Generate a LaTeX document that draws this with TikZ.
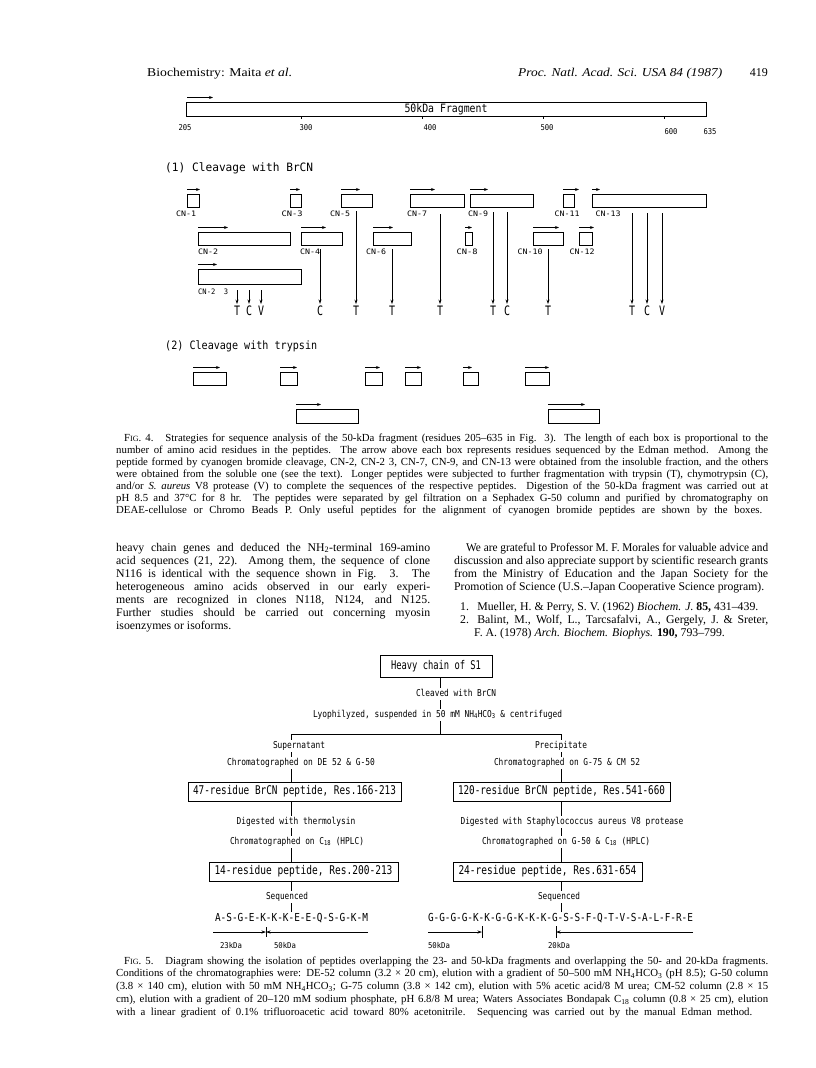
\documentclass[tikz,border=0pt]{standalone}
\usepackage{fontspec}
\setmainfont{Liberation Serif}
\newfontfamily\figf{DejaVu Sans Mono}
\usepackage{graphicx}
\usetikzlibrary{arrows.meta}
\newlength\fitlen
\newcommand\fitw[2]{\settowidth\fitlen{#2}\pgfmathsetmacro\fitsc{#1/\fitlen}\scalebox{\fitsc}[1]{#2}}
\newcommand\jl[2]{\settowidth\fitlen{#2}\ifdim\fitlen<#1pt\makebox[#1pt][s]{#2}\else\pgfmathsetmacro\fitsc{#1/\fitlen}\scalebox{\fitsc}[1]{#2}\fi}
\newcommand\fsz[1]{\fontsize{#1}{#1}\selectfont}
\newcommand\figno[1]{F{\fsz{8}IG}. #1.}
% peptide box with Edman arrow: name, x1, x2, ytop, ybottom, arrow end x
\newcommand\pep[6]{%
  \node[pbox, minimum width={#3-#2}, minimum height={#5-#4}] (#1) at ({(#2+#3)/2},{(#4+#5)/2}) {};
  \coordinate (#1a) at (#2,{#4-4.5});
  \coordinate (#1b) at (#6,{#4-4.5});
  \draw[edm] (#1a) -- (#1b);}
\begin{document}
\begin{tikzpicture}[x=1pt,y=-1pt,
  pbox/.style={draw, line width=0.9pt, inner sep=0pt, outer sep=0pt},
  edm/.style={line width=0.8pt, -{Stealth[length=4pt,width=3pt]}},
  dn/.style={line width=0.8pt, -{Stealth[length=4.5pt,width=3pt]}},
  conn/.style={line width=0.8pt},
  cnl/.style={font=\figf\fsz{7.5}, inner sep=0pt},
  numl/.style={font=\figf\fsz{8}, inner sep=0pt},
  ltr/.style={font=\figf\fsz{13}, inner sep=0pt},
  ttl/.style={font=\figf\fsz{11.5}, inner sep=0pt, anchor=west},
  lab/.style={font=\figf\fsz{9.5}, inner xsep=0pt, inner ysep=2pt, text height=6pt, text depth=1.8pt},
  kda/.style={font=\figf\fsz{8}, inner sep=0pt},
  seqf/.style={font=\figf\fsz{11}, inner xsep=0pt, inner ysep=2pt, text height=7.5pt, text depth=0pt},
  capf/.style={font=\fsz{10.8}, inner sep=0pt, anchor=base west},
  bodf/.style={font=\fsz{11.8}, inner sep=0pt, anchor=base west},
  hdf/.style={font=\fsz{12}, inner sep=0pt, anchor=base west},
]
\fill[white] (0,0) rectangle (816,1068);
\useasboundingbox (0,0) rectangle (816,1068);

% ---------------- header
\node[hdf] (hl) at (147,76) {\fitw{145}{Biochemistry: Maita \textit{et al.}}};
\node[hdf] (hr) at (518,76) {\fitw{204}{\textit{Proc. Natl. Acad. Sci. USA 84 (1987)}}};
\node[hdf, anchor=base east] (pg) at (768,76) {419};

% ---------------- Fig. 4
\node[pbox, minimum width=520, minimum height=14, font=\figf\fsz{11.5}] (frag) at (446,109) {\fitw{83}{50kDa Fragment}};
\coordinate (fraga) at (187,97.5); \coordinate (fragb) at (213,97.5);
\draw[edm] (fraga) -- (fragb);
\foreach \k/\xx in {k3/301,k4/422,k5/543,k6/664}{
  \coordinate (\k) at (\xx,116);
  \draw[conn] (\k) -- ++(0,3);}
\node[numl] (n205) at (185,128) {\fitw{13}{205}};
\node[numl] (n300) at (306,128) {\fitw{13}{300}};
\node[numl] (n400) at (430,128) {\fitw{13}{400}};
\node[numl] (n500) at (547,128) {\fitw{13}{500}};
\node[numl] (n600) at (671,132) {\fitw{13}{600}};
\node[numl] (n635) at (710,132) {\fitw{13}{635}};

\node[ttl] (cl1) at (165,168) {\fitw{148}{(1) Cleavage with BrCN}};

% row 1
\pep{cnA}{187}{199}{194}{207}{200}
\pep{cnC}{290}{301}{194}{207}{300}
\pep{cnE}{341}{372}{194}{207}{360}
\pep{cnG}{410}{464}{194}{207}{435}
\pep{cnI}{470}{533}{194}{207}{488}
\pep{cnK}{563}{574}{194}{207}{579}
\pep{cnM}{592}{706}{194}{207}{600}
\node[cnl] (lA) at (186,214) {\fitw{20}{CN-1}};
\node[cnl] (lC) at (292,214) {\fitw{21}{CN-3}};
\node[cnl] (lE) at (340,214) {\fitw{20}{CN-5}};
\node[cnl] (lG) at (417,214) {\fitw{20}{CN-7}};
\node[cnl] (lI) at (478,214) {\fitw{20}{CN-9}};
\node[cnl] (lK) at (567,214) {\fitw{25}{CN-11}};
\node[cnl] (lM) at (608,214) {\fitw{25}{CN-13}};
% row 2
\pep{cnB}{198}{290}{232}{245}{228}
\pep{cnD}{301}{342}{232}{245}{326}
\pep{cnF}{373}{411}{232}{245}{393}
\pep{cnH}{465}{472}{232}{245}{472}
\pep{cnJ}{533}{563}{232}{245}{559}
\pep{cnL}{579}{592}{232}{245}{594}
\node[cnl] (lB) at (208,252) {\fitw{20}{CN-2}};
\node[cnl] (lD) at (310,252) {\fitw{20}{CN-4}};
\node[cnl] (lF) at (376,252) {\fitw{20}{CN-6}};
\node[cnl] (lH) at (467,252) {\fitw{21}{CN-8}};
\node[cnl] (lJ) at (530,252) {\fitw{25}{CN-10}};
\node[cnl] (lL) at (582,252) {\fitw{25}{CN-12}};
% row 3
\pep{cnBB}{198}{301}{269}{284}{217}
\node[cnl, anchor=west] (lBB) at (198,292) {\fitw{30}{CN-2\ \ 3}};

% cleavage letters
\node[ltr] (x1) at (237,311) {\fitw{6}{T}};
\node[ltr] (x2) at (249,311) {\fitw{6}{C}};
\node[ltr] (x3) at (261,311) {\fitw{6}{V}};
\node[ltr] (x4) at (320,311) {\fitw{6}{C}};
\node[ltr] (x5) at (356,311) {\fitw{6}{T}};
\node[ltr] (x6) at (392,311) {\fitw{6}{T}};
\node[ltr] (x7) at (440,311) {\fitw{6}{T}};
\node[ltr] (x8) at (493,311) {\fitw{6}{T}};
\node[ltr] (x9) at (507,311) {\fitw{6}{C}};
\node[ltr] (x10) at (548,311) {\fitw{6}{T}};
\node[ltr] (x11) at (632,311) {\fitw{6}{T}};
\node[ltr] (x12) at (647,311) {\fitw{6}{C}};
\node[ltr] (x13) at (662,311) {\fitw{6}{V}};
\coordinate (s1) at (237,290); \coordinate (s2) at (249,290); \coordinate (s3) at (261,290);
\coordinate (s4) at (320,249); \coordinate (s5) at (356,211); \coordinate (s6) at (392,249);
\coordinate (s7) at (440,214); \coordinate (s8) at (493,212); \coordinate (s9) at (507,212);
\coordinate (s10) at (548,249); \coordinate (s11) at (632,213); \coordinate (s12) at (647,213);
\coordinate (s13) at (662,213);
\foreach \i in {1,...,13}{\draw[dn] (s\i) -- ([yshift=2pt]x\i.north);}

\node[ttl] (cl2) at (165,346) {\fitw{152}{(2) Cleavage with trypsin}};
\pep{trA}{193}{226}{372}{385}{220}
\pep{trB}{280}{297}{372}{385}{297}
\pep{trC}{365}{382}{372}{385}{380}
\pep{trD}{405}{421}{372}{385}{421}
\pep{trE}{463}{478}{372}{385}{472}
\pep{trF}{525}{549}{372}{385}{549}
\pep{trG}{296}{358}{409}{423}{321}
\pep{trH}{548}{599}{409}{423}{585}

% Fig. 4 caption
\node[capf] (c41) at (124,441) {\jl{644}{\figno{4}\hspace{1.1em}Strategies for sequence analysis of the 50-kDa fragment (residues 205--635 in Fig. 3). The length of each box is proportional to the}};
\node[capf] (c42) at (116,453) {\jl{652}{number of amino acid residues in the peptides. The arrow above each box represents residues sequenced by the Edman method. Among the}};
\node[capf] (c43) at (116,465) {\jl{652}{peptide formed by cyanogen bromide cleavage, CN-2, CN-2 3, CN-7, CN-9, and CN-13 were obtained from the insoluble fraction, and the others}};
\node[capf] (c44) at (116,477) {\jl{652}{were obtained from the soluble one (see the text). Longer peptides were subjected to further fragmentation with trypsin (T), chymotrypsin (C),}};
\node[capf] (c45) at (116,489) {\jl{652}{and/or \textit{S. aureus} V8 protease (V) to complete the sequences of the respective peptides. Digestion of the 50-kDa fragment was carried out at}};
\node[capf] (c46) at (116,501) {\jl{652}{pH 8.5 and 37°C for 8 hr. The peptides were separated by gel filtration on a Sephadex G-50 column and purified by chromatography on}};
\node[capf] (c47) at (116,513) {\jl{646}{DEAE-cellulose or Chromo Beads P. Only useful peptides for the alignment of cyanogen bromide peptides are shown by the boxes.}};

% ---------------- body text
\node[bodf] (b1) at (116,551) {\jl{314}{heavy chain genes and deduced the NH\textsubscript{2}-terminal 169-amino}};
\node[bodf] (b2) at (116,564) {\jl{314}{acid sequences (21, 22). Among them, the sequence of clone}};
\node[bodf] (b3) at (116,577) {\jl{314}{N116 is identical with the sequence shown in Fig. 3. The}};
\node[bodf] (b4) at (116,590) {\jl{314}{heterogeneous amino acids observed in our early experi-}};
\node[bodf] (b5) at (116,603) {\jl{314}{ments are recognized in clones N118, N124, and N125.}};
\node[bodf] (b6) at (116,616) {\jl{314}{Further studies should be carried out concerning myosin}};
\node[bodf] (b7) at (116,629) {isoenzymes or isoforms.};

\node[bodf] (r1) at (466,551) {\jl{302}{We are grateful to Professor M. F. Morales for valuable advice and}};
\node[bodf] (r2) at (454,564) {\jl{314}{discussion and also appreciate support by scientific research grants}};
\node[bodf] (r3) at (454,577) {\jl{314}{from the Ministry of Education and the Japan Society for the}};
\node[bodf] (r4) at (454,590) {\jl{310}{Promotion of Science (U.S.--Japan Cooperative Science program).}};
\node[bodf] (r5) at (460,610) {1.\hspace{0.7em}Mueller, H. \& Perry, S. V. (1962) \textit{Biochem. J.} \textbf{85,} 431--439.};
\node[bodf] (r6) at (460,623) {\jl{308}{2.\hspace{0.7em}Balint, M., Wolf, L., Tarcsafalvi, A., Gergely, J. \& Sreter,}};
\node[bodf] (r7) at (474,636) {F. A. (1978) \textit{Arch. Biochem. Biophys.} \textbf{190,} 793--799.};

% ---------------- Fig. 5
\coordinate (Mx) at (440,0); \coordinate (Lx) at (291,0); \coordinate (Rx) at (561,0);
\node[pbox, minimum width=112, minimum height=22, font=\figf\fsz{12}] (hc) at (436,666) {\fitw{90}{Heavy chain of S1}};
\node[lab] (clv) at (456,694) {\fitw{80}{Cleaved with BrCN}};
\node[lab] (lyo) at (437.5,715) {\fitw{249}{Lyophilyzed, suspended in 50 mM NH\textsubscript{4}HCO\textsubscript{3} \& centrifuged}};
\coordinate (barL) at (291,734); \coordinate (barR) at (561,734); \coordinate (barM) at (440,734);
\draw[conn] (hc.south -| Mx) -- (clv.north -| Mx);
\draw[conn] (clv.south -| Mx) -- (lyo.north -| Mx);
\draw[conn] (lyo.south -| Mx) -- (barM);
\draw[conn] (barL) -- (barR);

\node[lab] (sup) at (299,746) {\fitw{52}{Supernatant}};
\node[lab] (prc) at (561,746) {\fitw{52}{Precipitate}};
\node[lab] (chL) at (301,763) {\fitw{148}{Chromatographed on DE 52 \& G-50}};
\node[lab] (chR) at (567,763) {\fitw{146}{Chromatographed on G-75 \& CM 52}};
\node[pbox, minimum width=213, minimum height=19, font=\figf\fsz{12}] (bxL) at (294.5,791.5) {\fitw{203}{47-residue BrCN peptide, Res.166-213}};
\node[pbox, minimum width=217, minimum height=19, font=\figf\fsz{12}] (bxR) at (561.5,791.5) {\fitw{207}{120-residue BrCN peptide, Res.541-660}};
\node[lab] (dgL) at (296,822) {\fitw{119}{Digested with thermolysin}};
\node[lab] (dgR) at (572,822) {\fitw{223}{Digested with Staphylococcus aureus V8 protease}};
\node[lab] (cL) at (297,842) {\fitw{134}{Chromatographed on C\textsubscript{18} (HPLC)}};
\node[lab] (cR) at (566,842) {\fitw{168}{Chromatographed on G-50 \& C\textsubscript{18} (HPLC)}};
\node[pbox, minimum width=189, minimum height=19, font=\figf\fsz{12}] (pL) at (303.5,871.5) {\fitw{178}{14-residue peptide, Res.200-213}};
\node[pbox, minimum width=189, minimum height=19, font=\figf\fsz{12}] (pR) at (547.5,871.5) {\fitw{178}{24-residue peptide, Res.631-654}};
\node[lab] (sqL) at (287,897) {\fitw{42}{Sequenced}};
\node[lab] (sqR) at (559,897) {\fitw{42}{Sequenced}};
\node[seqf] (seqL) at (291.5,918) {\fitw{153}{A-S-G-E-K-K-K-E-E-Q-S-G-K-M}};
\node[seqf] (seqR) at (560.5,918) {\fitw{265}{G-G-G-G-K-K-G-G-K-K-K-G-S-S-F-Q-T-V-S-A-L-F-R-E}};

\draw[conn] (barL) -- (sup.north -| Lx);
\draw[conn] (sup.south -| Lx) -- (chL.north -| Lx);
\draw[conn] (chL.south -| Lx) -- (bxL.north -| Lx);
\draw[conn] (bxL.south -| Lx) -- (dgL.north -| Lx);
\draw[conn] (dgL.south -| Lx) -- (cL.north -| Lx);
\draw[conn] (cL.south -| Lx) -- (pL.north -| Lx);
\draw[conn] (pL.south -| Lx) -- (sqL.north -| Lx);
\draw[conn] (sqL.south -| Lx) -- (seqL.north -| Lx);
\draw[conn] (barR) -- (prc.north -| Rx);
\draw[conn] (prc.south -| Rx) -- (chR.north -| Rx);
\draw[conn] (chR.south -| Rx) -- (bxR.north -| Rx);
\draw[conn] (bxR.south -| Rx) -- (dgR.north -| Rx);
\draw[conn] (dgR.south -| Rx) -- (cR.north -| Rx);
\draw[conn] (cR.south -| Rx) -- (pR.north -| Rx);
\draw[conn] (pR.south -| Rx) -- (sqR.north -| Rx);
\draw[conn] (sqR.south -| Rx) -- (seqR.north -| Rx);

% junction arrows
\coordinate (aL1) at (213,932); \coordinate (aJ) at (266,932); \coordinate (aL2) at (368,932);
\draw[dn] (aL1) -- (aJ);
\draw[dn] (aL2) -- (aJ);
\draw[conn] ([yshift=5pt]aJ) -- ([yshift=-5pt]aJ);
\coordinate (bR1) at (428,932); \coordinate (bR2) at (482,932);
\coordinate (bR3) at (556,932); \coordinate (bR4) at (693,932);
\draw[dn] (bR1) -- (bR2);
\draw[dn] (bR4) -- (bR3);
\draw[conn] ([yshift=6pt]bR2) -- ([yshift=-6pt]bR2);
\draw[conn] ([yshift=6pt]bR3) -- ([yshift=-6pt]bR3);
\node[kda] (k23) at (231,946) {\fitw{22}{23kDa}};
\node[kda] (k50a) at (285,946) {\fitw{22}{50kDa}};
\node[kda] (k50b) at (439,946) {\fitw{22}{50kDa}};
\node[kda] (k20) at (559,946) {\fitw{22}{20kDa}};

% Fig. 5 caption
\node[capf] (c51) at (124,964) {\jl{644}{\figno{5}\hspace{1.1em}Diagram showing the isolation of peptides overlapping the 23- and 50-kDa fragments and overlapping the 50- and 20-kDa fragments.}};
\node[capf] (c52) at (116,976.8) {\jl{652}{Conditions of the chromatographies were: DE-52 column (3.2 × 20 cm), elution with a gradient of 50--500 mM NH\textsubscript{4}HCO\textsubscript{3} (pH 8.5); G-50 column}};
\node[capf] (c53) at (116,989.6) {\jl{652}{(3.8 × 140 cm), elution with 50 mM NH\textsubscript{4}HCO\textsubscript{3}; G-75 column (3.8 × 142 cm), elution with 5\% acetic acid/8 M urea; CM-52 column (2.8 × 15}};
\node[capf] (c54) at (116,1002.4) {\jl{652}{cm), elution with a gradient of 20--120 mM sodium phosphate, pH 6.8/8 M urea; Waters Associates Bondapak C\textsubscript{18} column (0.8 × 25 cm), elution}};
\node[capf] (c55) at (116,1015.2) {\jl{636}{with a linear gradient of 0.1\% trifluoroacetic acid toward 80\% acetonitrile. Sequencing was carried out by the manual Edman method.}};
\end{tikzpicture}
\end{document}
